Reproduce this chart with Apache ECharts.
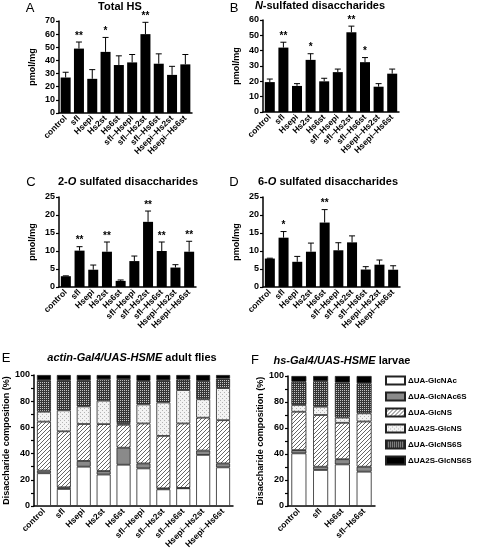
<!DOCTYPE html>
<html><head><meta charset="utf-8">
<script src="https://cdn.jsdelivr.net/npm/echarts@6/dist/echarts.min.js"></script>
<style>html,body{margin:0;padding:0;background:#fff}#c{width:480px;height:557px}</style>
</head><body><div id="c"></div>
<script>
const categories = ['control','sfl','Hsepi','Hs2st','Hs6st','sfl–Hsepi','sfl–Hs2st','sfl–Hs6st','Hsepi–Hs2st','Hsepi–Hs6st'];
const larvaeCategories = ['control','sfl','Hs6st','sfl–Hs6st'];

const totalMean = [27,49,26,46.5,36.5,38.5,60,37.5,29,37];
const totalSem  = [4,5,7,11,7,6,9,7.5,6.5,7.5];
const totalSig  = ['','**','','*','','','**','','',''];

const nMean = [19.5,42,17,34,20,26,52,32.5,16.5,25];
const nSem  = [2,3.5,1.5,4,2,2,4,3,2,3];
const nSig  = ['','**','','*','','','**','*','',''];

const o2Mean = [3.0,10.1,4.8,9.8,1.7,7.2,18.1,10.0,5.4,9.8];
const o2Sem  = [0.1,1.1,1.3,2.7,0.25,1.4,3.0,2.5,0.8,2.9];
const o2Sig  = ['','**','','**','','','**','**','','**'];

const o6Mean = [7.9,13.7,7.0,9.8,17.9,10.2,12.4,4.85,6.2,4.8];
const o6Sem  = [0.1,1.7,1.5,2.4,3.6,2.1,1.8,0.8,1.3,1.1];
const o6Sig  = ['','*','','','**','','','','',''];

const compNames = ['ΔUA-GlcNAc','ΔUA-GlcNAc6S','ΔUA-GlcNS','ΔUA2S-GlcNS','ΔUA-GlcNS6S','ΔUA2S-GlcNS6S'];
// adult flies (E), percent per component
const eNAc    = [25,13,30,24,31.5,28.7,12.7,13.5,39,29.5];
const eNAc6S  = [2,1.3,4.4,2.7,13,3.8,0.8,0.3,3.3,3];
const eNS     = [37.4,42.7,28.2,35.8,17.5,30.5,40,49.2,25.1,33];
const e2SNS   = [7.6,16,13.4,17.9,1.3,14.5,25.5,25.5,14.1,24.5];
const eNS6S   = [24,23,20,16.3,33.5,18,17,8,14,7.3];
const e2SNS6S = [4,4,4,3.3,3.2,4.5,4,3.5,4.5,2.7];
// larvae (F)
const fNAc    = [40.5,27.7,32,26.4];
const fNAc6S  = [2.5,2.5,4,3.8];
const fNS     = [29.5,39.8,28,34.8];
const f2SNS   = [5.2,6.4,4,6.3];
const fNS6S   = [17.9,19.6,27,23.1];
const f2SNS6S = [4.4,4,5,5.6];

const yTicksA = {min:0,max:70,interval:10};
const yTicksB = {min:0,max:60,interval:10};
const yTicksCD = {min:0,max:25,interval:5};
const yTicksEF = {min:0,max:100,interval:20};

function pattern(size, draw){
  const c=document.createElement('canvas'); c.width=size; c.height=size;
  const g=c.getContext('2d'); draw(g,size); return {image:c, repeat:'repeat'};
}
const hatch = pattern(4,(g,s)=>{g.fillStyle='#fff';g.fillRect(0,0,s,s);g.strokeStyle='#555';g.lineWidth=0.9;
  g.beginPath();[-s,0,s].forEach(k=>{g.moveTo(k,s);g.lineTo(k+s,0);});g.stroke();});
const stipple = pattern(4,(g,s)=>{g.fillStyle='#f3f3f3';g.fillRect(0,0,s,s);g.fillStyle='#b4b4b4';g.fillRect(0,0,1,1);g.fillRect(2,2,1,1);});
const checker = pattern(4,(g,s)=>{g.fillStyle='#363636';g.fillRect(0,0,s,s);g.fillStyle='#c4c4c4';g.fillRect(0,0,1,1);g.fillRect(2,2,1,1);g.fillRect(0,2,1,1);g.fillRect(2,0,1,1);});
const compFills = ['#ffffff','#8a8a8a',hatch,stipple,checker,'#000000'];

const FONT = 'Liberation Sans, Arial, sans-serif';
const grids = [
  {left:59, top:21, width:133, height:92},
  {left:263, top:20, width:136, height:92},
  {left:59, top:197, width:137, height:90},
  {left:263, top:197, width:137, height:90},
  {left:34, top:375, width:199, height:131},
  {left:288, top:376, width:87, height:130}
];

function xAx(i, cats){
  return {type:'category', gridIndex:i, data:cats,
    axisLine:{lineStyle:{color:'#000',width:1.5}},
    axisTick:{alignWithLabel:true,length:3,lineStyle:{color:'#000',width:1.2}},
    axisLabel:{rotate:45,margin:4,fontSize:8.5,fontWeight:'bold',color:'#000',fontFamily:FONT,interval:0}};
}
function yAx(i, t, name, gap, minor){
  return {type:'value', gridIndex:i, min:t.min, max:t.max, interval:t.interval,
    name:name, nameLocation:'middle', nameGap:gap,
    nameTextStyle:{fontSize:9,fontWeight:'bold',color:'#000',fontFamily:FONT},
    splitLine:{show:false},
    axisLine:{show:true,lineStyle:{color:'#000',width:1.5}},
    axisTick:{show:true,length:3,lineStyle:{color:'#000',width:1.2}},
    minorTick:{show:!!minor,splitNumber:2,length:3,lineStyle:{color:'#000',width:1.2}},
    axisLabel:{fontSize:9,fontWeight:'bold',color:'#000',fontFamily:FONT,margin:4}};
}

const series = [];
function barPanel(i, mean, sem, sig){
  series.push({type:'bar', xAxisIndex:i, yAxisIndex:i, data:mean, barWidth:10,
    itemStyle:{color:'#000'}, silent:true, z:2});
  series.push({type:'custom', xAxisIndex:i, yAxisIndex:i, z:3, silent:true,
    data: mean.map((m,k)=>[k, m, m+sem[k]]),
    renderItem:(params, api)=>{
      const k=api.value(0);
      const b=api.coord([k, api.value(1)]);
      const t=api.coord([k, api.value(2)]);
      const ch=[
        {type:'line', shape:{x1:b[0],y1:b[1],x2:t[0],y2:t[1]}, style:{stroke:'#000',lineWidth:1}},
        {type:'line', shape:{x1:t[0]-3,y1:t[1],x2:t[0]+3,y2:t[1]}, style:{stroke:'#000',lineWidth:1}}
      ];
      const s=sig[params.dataIndex];
      if(s) ch.push({type:'text', x:t[0], y:t[1]-1, style:{text:s, textAlign:'center', textVerticalAlign:'bottom', font:'bold 10px '+FONT, fill:'#000'}});
      return {type:'group', children:ch};
    }});
}
barPanel(0,totalMean,totalSem,totalSig);
barPanel(1,nMean,nSem,nSig);
barPanel(2,o2Mean,o2Sem,o2Sig);
barPanel(3,o6Mean,o6Sem,o6Sig);

const eComp=[eNAc,eNAc6S,eNS,e2SNS,eNS6S,e2SNS6S];
const fComp=[fNAc,fNAc6S,fNS,f2SNS,fNS6S,f2SNS6S];
compNames.forEach((n,j)=>{
  series.push({type:'bar', name:n, stack:'E', xAxisIndex:4, yAxisIndex:4, data:eComp[j], barWidth:14,
    itemStyle:{color:compFills[j], borderColor:'#222', borderWidth:0.8}, silent:true});
});
compNames.forEach((n,j)=>{
  series.push({type:'bar', name:n, stack:'F', xAxisIndex:5, yAxisIndex:5, data:fComp[j], barWidth:15,
    itemStyle:{color:compFills[j], borderColor:'#222', borderWidth:0.8}, silent:true});
});

function txt(x,y,text,font,rich){
  return {type:'text', x:x, y:y, silent:true,
    style:{text:text, textAlign:'center', textVerticalAlign:'middle', font:font, fill:'#000', rich:rich}};
}
const tf='bold 11px '+FONT;
const itRich={i:{fontStyle:'italic',fontWeight:'bold',fontSize:11,fontFamily:FONT}, n:{fontWeight:'bold',fontSize:11,fontFamily:FONT}};
const graphics=[
  txt(30,8,'A','13px '+FONT), txt(234,8,'B','13px '+FONT),
  txt(31,182,'C','13px '+FONT), txt(234,182,'D','13px '+FONT),
  txt(6,358,'E','13px '+FONT), txt(255,360,'F','13px '+FONT),
  txt(120,7,'Total HS',tf),
  {type:'text', x:320, y:6, silent:true, style:{text:'{i|N}{n|-sulfated disaccharides}', textAlign:'center', textVerticalAlign:'middle', rich:itRich, fill:'#000'}},
  {type:'text', x:128, y:182, silent:true, style:{text:'{n|2-}{i|O}{n| sulfated disaccharides}', textAlign:'center', textVerticalAlign:'middle', rich:itRich, fill:'#000'}},
  {type:'text', x:328, y:182, silent:true, style:{text:'{n|6-}{i|O}{n| sulfated disaccharides}', textAlign:'center', textVerticalAlign:'middle', rich:itRich, fill:'#000'}},
  {type:'text', x:132, y:358, silent:true, style:{text:'{i|actin-Gal4/UAS-HSME}{n| adult flies}', textAlign:'center', textVerticalAlign:'middle', rich:itRich, fill:'#000'}},
  {type:'text', x:342, y:361, silent:true, style:{text:'{i|hs-Gal4/UAS-HSME}{n| larvae}', textAlign:'center', textVerticalAlign:'middle', rich:itRich, fill:'#000'}}
];

const chart=echarts.init(document.getElementById('c'),null,{renderer:'canvas'});
chart.setOption({
  animation:false,
  textStyle:{fontFamily:FONT},
  grid:grids,
  xAxis:[xAx(0,categories),xAx(1,categories),xAx(2,categories),xAx(3,categories),xAx(4,categories),xAx(5,larvaeCategories)],
  yAxis:[yAx(0,yTicksA,'pmol/mg',22),yAx(1,yTicksB,'pmol/mg',22),yAx(2,yTicksCD,'pmol/mg',22),yAx(3,yTicksCD,'pmol/mg',22),
         yAx(4,yTicksEF,'Disaccharide composition (%)',22,true),yAx(5,yTicksEF,'Disaccharide composition (%)',22,true)],
  legend:{data:compNames, orient:'vertical', left:385, top:375, itemWidth:19, itemHeight:8, itemGap:5,
    icon:'rect', selectedMode:false, padding:0,
    textStyle:{fontSize:8,fontWeight:'bold',color:'#000',fontFamily:FONT,lineHeight:11,padding:[0,0,0,-2]}},
  graphic:graphics,
  series:series
});
</script></body></html>
